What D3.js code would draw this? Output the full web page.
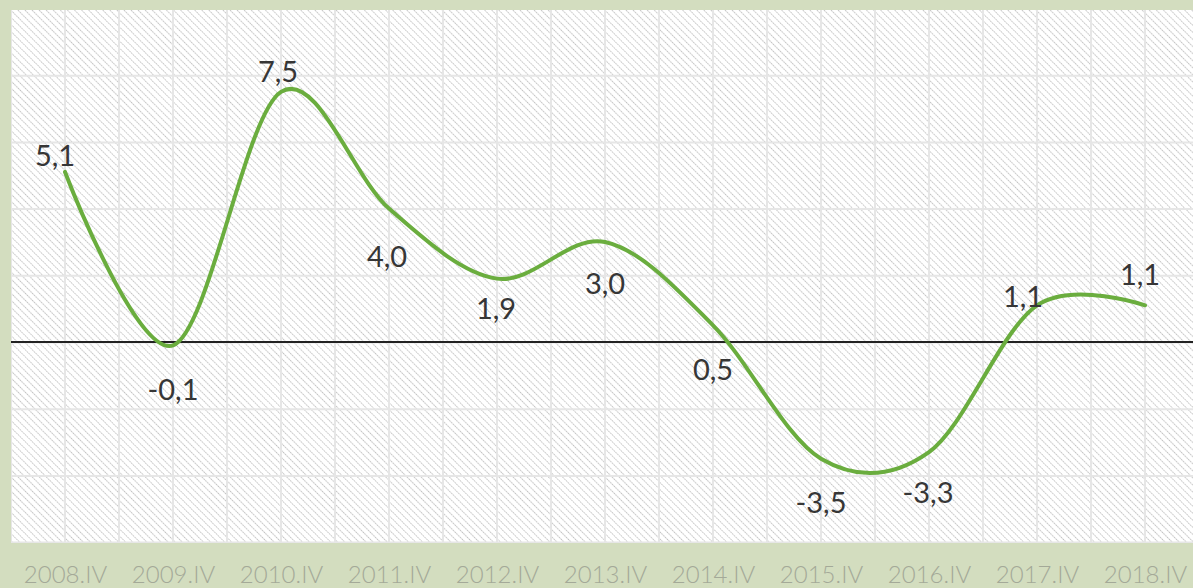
<!DOCTYPE html>
<html>
<head>
<meta charset="utf-8">
<script src="https://cdn.jsdelivr.net/npm/d3@7"></script>
<style>
  html, body { margin: 0; padding: 0; background: #d3ddbf; }
  svg { display: block; }
</style>
</head>
<body>
<svg id="chart" width="1193" height="588"></svg>
<script>
// ---- data ----
const categories = ["2008.IV","2009.IV","2010.IV","2011.IV","2012.IV","2013.IV","2014.IV","2015.IV","2016.IV","2017.IV","2018.IV"];
const values = [5.1, -0.1, 7.5, 4.0, 1.9, 3.0, 0.5, -3.5, -3.3, 1.1, 1.1];
const valueLabels = ["5,1","-0,1","7,5","4,0","1,9","3,0","0,5","-3,5","-3,3","1,1","1,1"];
const yTicks = [-6, -4, -2, 0, 2, 4, 6, 8, 10];

// ---- layout ----
const W = 1193, H = 588;
const plot = { left: 11, top: 10, right: 1193, bottom: 543 };
const svg = d3.select("#chart");

const x = d3.scaleLinear().domain([0, categories.length - 1]).range([65, 1145]);
const y = d3.scaleLinear().domain([0, 10]).range([342, 8.5]);

const defs = svg.append("defs");
const pat = defs.append("pattern")
  .attr("id", "hatch").attr("patternUnits", "userSpaceOnUse")
  .attr("width", 5).attr("height", 5)
  .attr("patternTransform", "rotate(-45)");
pat.append("rect").attr("width", 5).attr("height", 5).attr("fill", "#ffffff");
pat.append("line").attr("x1", 0).attr("y1", 0).attr("x2", 0).attr("y2", 5)
  .attr("stroke", "#c2c2c2").attr("stroke-width", 2).attr("stroke-dasharray", "1.6,1");

defs.append("clipPath").attr("id", "clip").append("rect")
  .attr("x", plot.left).attr("y", plot.top)
  .attr("width", plot.right - plot.left).attr("height", plot.bottom - plot.top);

const g = svg.append("g").attr("clip-path", "url(#clip)");
g.append("rect")
  .attr("x", plot.left).attr("y", plot.top)
  .attr("width", plot.right - plot.left).attr("height", plot.bottom - plot.top)
  .attr("fill", "url(#hatch)");

// vertical gridlines (every half category)
const vTicks = d3.range(-0.5, categories.length + 0.5, 0.5);
g.selectAll(".vgrid").data(vTicks).join("line")
  .attr("x1", d => x(d)).attr("x2", d => x(d))
  .attr("y1", plot.top).attr("y2", plot.bottom)
  .attr("stroke", "#e6e6e6").attr("stroke-width", 2);

// horizontal gridlines via axis
const yAxis = d3.axisLeft(y).tickValues(yTicks).tickSize(-(plot.right - plot.left)).tickFormat("");
const ya = g.append("g").attr("transform", `translate(${plot.left},0)`).call(yAxis);
ya.select(".domain").remove();
ya.selectAll(".tick line").attr("stroke", "#e6e6e6").attr("stroke-width", 2);

// zero line
g.append("line")
  .attr("x1", plot.left).attr("x2", plot.right)
  .attr("y1", y(0)).attr("y2", y(0))
  .attr("stroke", "#222").attr("stroke-width", 2);

// curve
const line = d3.line()
  .x((d, i) => x(i)).y(d => y(d))
  .curve(d3.curveCardinal.tension(0));
g.append("path").datum(values)
  .attr("d", line)
  .attr("fill", "none")
  .attr("stroke", "#6aad3e")
  .attr("stroke-width", 4)
  .attr("stroke-linecap", "round");

// value labels
const labelOffsets = [[-10,-6],[0,55],[-3,-10],[-2,58],[-1,40],[0,52],[0,55],[0,54],[-1,51],[-14,2],[-5,-20]];
svg.selectAll(".vlabel").data(values).join("text")
  .attr("x", (d, i) => x(i) + labelOffsets[i][0])
  .attr("y", (d, i) => y(d) + labelOffsets[i][1])
  .attr("text-anchor", "middle")
  .attr("font-family", "Lato, 'Open Sans', sans-serif")
  .attr("font-size", 29)
  .attr("fill", "#363636")
  .text((d, i) => valueLabels[i]);

// x axis labels
const xAxis = d3.axisBottom(x).tickValues(d3.range(categories.length))
  .tickFormat(i => categories[i]).tickSize(0).tickPadding(0);
const xa = svg.append("g").attr("transform", `translate(0,${H - 24})`).call(xAxis);
xa.select(".domain").remove();
xa.selectAll("text")
  .attr("dy", 0).attr("y", 19)
  .attr("font-family", "Lato, sans-serif")
  .attr("font-weight", 300)
  .attr("font-size", 24)
  .attr("fill", "#a4a998");
</script>
</body>
</html>
